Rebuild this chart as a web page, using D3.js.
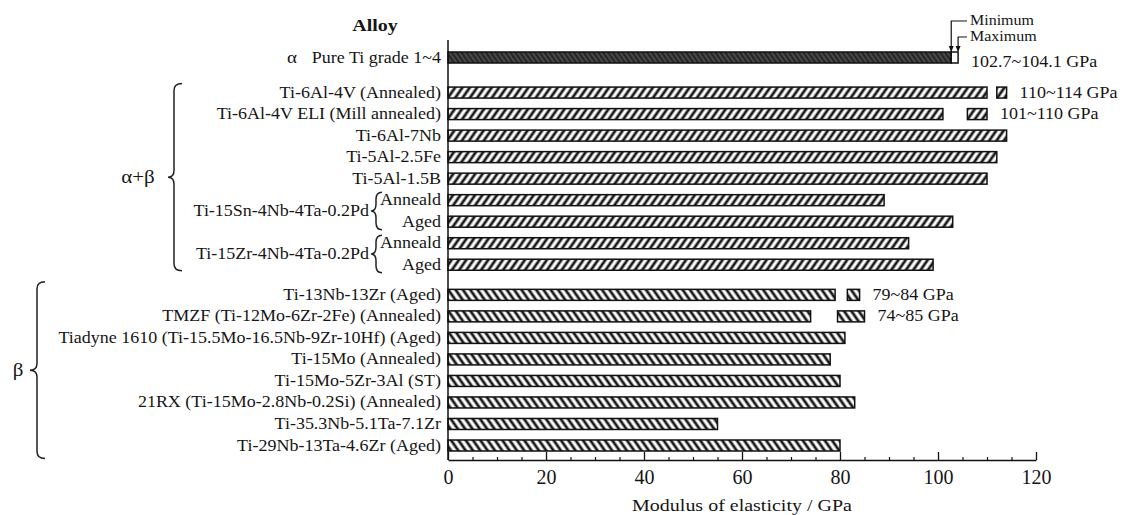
<!DOCTYPE html>
<html>
<head>
<meta charset="utf-8">
<script src="https://cdn.jsdelivr.net/npm/d3@7"></script>
<style>
  body { margin: 0; background: #fff; }
  text { font-family: "Liberation Serif", "DejaVu Serif", serif; fill: #151515; }
</style>
</head>
<body>
<div id="chart"></div>
<script>
// SVG size
var svgWidth = 1123;
var svgHeight = 515;

// Rows of the chart, top to bottom
var alloys = [
  "Pure Ti grade 1~4",
  "Ti-6Al-4V (Annealed)",
  "Ti-6Al-4V ELI (Mill annealed)",
  "Ti-6Al-7Nb",
  "Ti-5Al-2.5Fe",
  "Ti-5Al-1.5B",
  "Anneald",
  "Aged",
  "Anneald",
  "Aged",
  "Ti-13Nb-13Zr (Aged)",
  "TMZF (Ti-12Mo-6Zr-2Fe) (Annealed)",
  "Tiadyne 1610 (Ti-15.5Mo-16.5Nb-9Zr-10Hf) (Aged)",
  "Ti-15Mo (Annealed)",
  "Ti-15Mo-5Zr-3Al (ST)",
  "21RX (Ti-15Mo-2.8Nb-0.2Si) (Annealed)",
  "Ti-35.3Nb-5.1Ta-7.1Zr",
  "Ti-29Nb-13Ta-4.6Zr (Aged)"
];
var phaseOfRow = [0, 1, 1, 1, 1, 1, 1, 1, 1, 1, 2, 2, 2, 2, 2, 2, 2, 2];
var phases = ["α", "α+β", "β"];

// modulus of elasticity (GPa), minimum where a range is given
var modulus = [102.7, 110, 101, 114, 112, 110, 89, 103, 94, 99, 79, 74, 81, 78, 80, 83, 55, 80];

// upper part of a range (small box), null where no range
var rangeFrom = [102.7, 112, 106, null, null, null, null, null, null, null, 81.5, 79.5, null, null, null, null, null, null];
var rangeTo = [104.1, 114, 110, null, null, null, null, null, null, null, 84, 85, null, null, null, null, null, null];
var rangeLabels = ["102.7~104.1 GPa", "110~114 GPa", "101~110 GPa", null, null, null, null, null, null, null,
  "79~84 GPa", "74~85 GPa", null, null, null, null, null, null];

// alloys with two heat treatments
var subAlloys = ["Ti-15Sn-4Nb-4Ta-0.2Pd", "Ti-15Zr-4Nb-4Ta-0.2Pd"];
var subAlloyRows = [[6, 7], [8, 9]];

var xTicks = [0, 20, 40, 60, 80, 100, 120];
var minorTicks = [5, 10, 15, 25, 30, 35, 45, 50, 55, 65, 70, 75, 85, 90, 95, 105, 110, 115];

// layout
var axisY = 460;
var axisTop = 40;
var phaseOffset = [0, 0.63, 1.03];   // extra space between the phase groups
var barH = 11;
var squish = 0.87;                   // the original text is a bit flattened

var svg = d3.select("#chart")
  .append("svg")
  .attr("width", svgWidth)
  .attr("height", svgHeight);

var xScale = d3.scaleLinear().domain([0, 120]).range([448, 1036]);

var slots = alloys.map((d, i) => i + phaseOffset[phaseOfRow[i]]);
var yScale = d3.scaleLinear()
  .domain([0, d3.max(slots)])
  .range([57.5, 445.5]);
var rowY = i => yScale(slots[i]);

// text helper, flattened like the scan
function label(x, y, str, size, anchor, weight) {
  return svg.append("text")
    .attr("transform", `translate(${x},${y}) scale(1,${squish})`)
    .attr("text-anchor", anchor || "start")
    .style("font-size", size + "px")
    .style("font-weight", weight || "normal")
    .text(str);
}

// hatch patterns
var defs = svg.append("defs");
function hatch(id, angle, bg, fg, w, size) {
  var p = defs.append("pattern")
    .attr("id", id)
    .attr("patternUnits", "userSpaceOnUse")
    .attr("width", size)
    .attr("height", size)
    .attr("patternTransform", `rotate(${angle})`);
  p.append("rect").attr("width", size).attr("height", size).attr("fill", bg);
  p.append("line")
    .attr("x1", size / 2).attr("x2", size / 2)
    .attr("y1", 0).attr("y2", size)
    .attr("stroke", fg).attr("stroke-width", w);
}
hatch("dense", -35, "#262626", "#6a6a6a", 1, 4);
hatch("fwd", 35, "#ffffff", "#1a1a1a", 2.8, 6);
hatch("back", -35, "#ffffff", "#1a1a1a", 2.8, 6);
var fills = ["url(#dense)", "url(#fwd)", "url(#back)"];

// bars
svg.selectAll("rect.bar")
  .data(modulus)
  .enter()
  .append("rect")
  .attr("class", "bar")
  .attr("x", xScale(0))
  .attr("y", (d, i) => rowY(i) - barH / 2)
  .attr("width", d => xScale(d) - xScale(0))
  .attr("height", barH)
  .attr("fill", (d, i) => fills[phaseOfRow[i]])
  .attr("stroke", "#111")
  .attr("stroke-width", 1.5);

// range boxes
var rangeRows = d3.range(alloys.length).filter(i => rangeTo[i] != null);
svg.selectAll("rect.range")
  .data(rangeRows)
  .enter()
  .append("rect")
  .attr("class", "range")
  .attr("x", i => xScale(rangeFrom[i]))
  .attr("y", i => rowY(i) - barH / 2)
  .attr("width", i => xScale(rangeTo[i]) - xScale(rangeFrom[i]))
  .attr("height", barH)
  .attr("fill", i => i === 0 ? "#fff" : fills[phaseOfRow[i]])
  .attr("stroke", "#111")
  .attr("stroke-width", 1.5);

rangeRows.forEach(function(i) {
  label(xScale(rangeTo[i]) + 13, rowY(i) + (i === 0 ? 9 : 5), rangeLabels[i], 18);
});

// row labels
alloys.forEach(function(name, i) {
  label(xScale(0) - 7, rowY(i) + 5, name, 18, "end");
});
label(292, rowY(0) + 5, phases[0], 19, "middle");

// curly brace, opening to the right
function brace(xTip, xBody, xEnd, y0, y1) {
  var ym = (y0 + y1) / 2, r = 7;
  var path = `M${xEnd},${y0} Q${xBody},${y0} ${xBody},${y0 + r} L${xBody},${ym - r} ` +
    `Q${xBody},${ym} ${xTip},${ym} Q${xBody},${ym} ${xBody},${ym + r} ` +
    `L${xBody},${y1 - r} Q${xBody},${y1} ${xEnd},${y1}`;
  svg.append("path")
    .attr("d", path)
    .attr("fill", "none")
    .attr("stroke", "#222")
    .attr("stroke-width", 1.5);
  return ym;
}

// sub alloy braces
subAlloys.forEach(function(name, k) {
  var rows = subAlloyRows[k];
  var ym = brace(371, 376, 382, rowY(rows[0]) - 8, rowY(rows[1]) + 8);
  label(369, ym + 5, name, 18, "end");
});

// phase braces
var abRows = d3.range(alloys.length).filter(i => phaseOfRow[i] === 1);
var bRows = d3.range(alloys.length).filter(i => phaseOfRow[i] === 2);
var abMid = brace(168, 174, 182, rowY(abRows[0]) - 9, rowY(abRows[abRows.length - 1]) + 6);
label(138, abMid + 6, phases[1], 21, "middle");
var bMid = brace(30, 37, 45, rowY(bRows[0]) - 13, rowY(bRows[bRows.length - 1]) + 13);
label(18, bMid + 6, phases[2], 21, "middle");

// axes
svg.append("line")
  .attr("x1", xScale(0)).attr("x2", xScale(0))
  .attr("y1", axisTop).attr("y2", axisY)
  .attr("stroke", "#111").attr("stroke-width", 1.5);

var bottomAxis = d3.axisBottom(xScale)
  .tickValues(xTicks)
  .tickSizeInner(-8)
  .tickSizeOuter(0)
  .tickPadding(10);
var xAxisG = svg.append("g")
  .attr("transform", `translate(0, ${axisY})`)
  .call(bottomAxis);
xAxisG.select(".domain").attr("stroke", "#111").attr("stroke-width", 1.5);
xAxisG.selectAll(".tick line").attr("stroke", "#111").attr("stroke-width", 1.3);
xAxisG.selectAll("text")
  .style("font-family", "'Liberation Serif', serif")
  .style("font-size", "20px")
  .attr("fill", "#151515");

var minorAxis = d3.axisBottom(xScale)
  .tickValues(minorTicks)
  .tickSizeInner(-3)
  .tickSizeOuter(0)
  .tickFormat("");
var minorG = svg.append("g")
  .attr("transform", `translate(0, ${axisY})`)
  .call(minorAxis);
minorG.select(".domain").remove();
minorG.selectAll(".tick line").attr("stroke", "#111").attr("stroke-width", 1.2);

label((xScale(0) + xScale(120)) / 2, 511, "Modulus of elasticity / GPa", 20, "middle");
label(375, 31, "Alloy", 20, "middle", "bold");

// minimum / maximum key on the pure Ti bar
var keyY = [21, 37];
var keyVals = [rangeFrom[0], rangeTo[0]];
var keyNames = ["Minimum", "Maximum"];
keyVals.forEach(function(v, k) {
  var x = xScale(v);
  var yEnd = rowY(0) - barH / 2;
  svg.append("path")
    .attr("d", `M967,${keyY[k]} H${x} V${yEnd - 1}`)
    .attr("fill", "none")
    .attr("stroke", "#111")
    .attr("stroke-width", 1.2);
  svg.append("path")
    .attr("d", `M${x - 2.5},${yEnd - 6} L${x},${yEnd} L${x + 2.5},${yEnd - 6} Z`)
    .attr("fill", "#111");
  label(970, keyY[k] + 4, keyNames[k], 16);
});
</script>
</body>
</html>
